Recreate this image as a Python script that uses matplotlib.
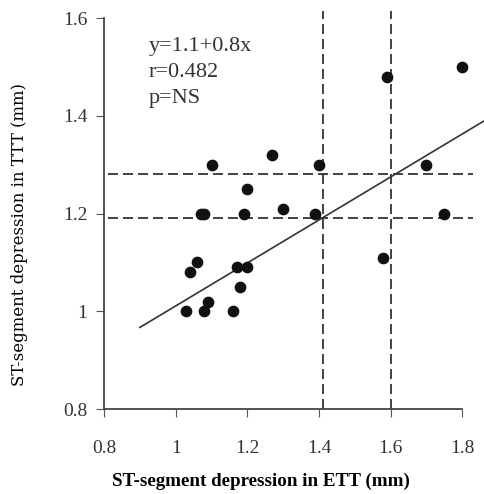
import matplotlib
matplotlib.use("Agg")
import matplotlib.pyplot as plt
import numpy as np

# ST-segment depression: ETT (x) vs TTT (y), mm
ett = [1.10, 1.27, 1.40, 1.20, 1.07, 1.08, 1.19, 1.30, 1.39, 1.06, 1.04, 1.17,
       1.20, 1.18, 1.09, 1.08, 1.03, 1.16, 1.59, 1.80, 1.70, 1.75, 1.58]
ttt = [1.30, 1.32, 1.30, 1.25, 1.20, 1.20, 1.20, 1.21, 1.20, 1.10, 1.08, 1.09,
       1.09, 1.05, 1.02, 1.00, 1.00, 1.00, 1.48, 1.50, 1.30, 1.20, 1.11]

# regression line end points
fit_x = [0.90, 1.88]
fit_y = [0.967, 1.398]

# cut-off lines
cut_x = [1.41, 1.60]
cut_y = [1.19, 1.28]

xticks = [0.8, 1.0, 1.2, 1.4, 1.6, 1.8]
xticklabels = ["0.8", "1", "1.2", "1.4", "1.6", "1.8"]
yticks = [0.8, 1.0, 1.2, 1.4, 1.6]
yticklabels = ["0.8", "1", "1.2", "1.4", "1.6"]

stats = ["y=1.1+0.8x", "r=0.482", "p=NS"]

plt.rcParams["font.family"] = ["Liberation Serif", "DejaVu Serif"]

fig = plt.figure(figsize=(4.84, 4.94), dpi=100)
ax = fig.add_axes([0.215, 0.172, 0.777, 0.823])

ax.set_xlim(0.8, 1.85)
ax.set_ylim(0.8, 1.632)

for xv in cut_x:
    ax.plot([xv, xv], [0.8, 1.615], color="#222222", lw=1.2, ls=(0, (6, 3)))
for yv in cut_y:
    ax.plot([0.81, 1.83], [yv, yv], color="#222222", lw=1.2, ls=(0, (6, 3)))

ax.plot(fit_x, fit_y, color="#333333", lw=1.2, clip_on=False)
ax.scatter(ett, ttt, s=55, color="#111111", zorder=3)

ax.text(0.925, 1.489, "\n".join(stats), fontsize=16, linespacing=1.5,
        va="center", ha="left", color="#333333")

ax.spines["top"].set_visible(False)
ax.spines["right"].set_visible(False)
ax.spines["left"].set_bounds(0.8, 1.6)
ax.spines["bottom"].set_bounds(0.8, 1.8)
ax.spines["left"].set_color("#444444")
ax.spines["bottom"].set_color("#444444")
ax.spines["left"].set_linewidth(1.3)
ax.spines["bottom"].set_linewidth(1.3)

ax.set_xticks(xticks)
ax.set_xticklabels(xticklabels)
ax.set_yticks(yticks)
ax.set_yticklabels(yticklabels)
ax.tick_params(axis="both", labelsize=14, colors="#555555", length=6,
               labelcolor="#333333")
ax.tick_params(axis="x", pad=16)
ax.tick_params(axis="y", pad=6)

ax.set_xlabel("ST-segment depression in ETT (mm)", fontsize=13.7,
              fontweight="bold")
ax.set_ylabel("ST-segment depression in TTT (mm)", fontsize=11.9,
              family=["DejaVu Serif"])
ax.xaxis.set_label_coords(0.418, -0.157)
ax.yaxis.set_label_coords(-0.202, 0.428)

fig.savefig("out.png", dpi=100)
